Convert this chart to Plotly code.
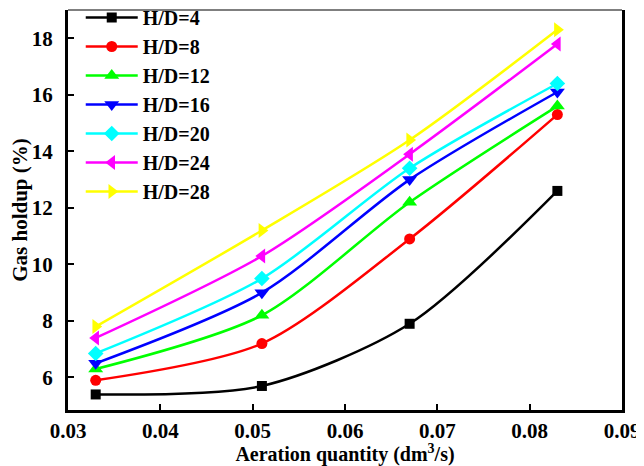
import plotly.graph_objects as go

aeration = [0.033, 0.051, 0.067, 0.083]
series_names = ["H/D=4", "H/D=8", "H/D=12", "H/D=16", "H/D=20", "H/D=24", "H/D=28"]
hd4 = [5.4, 5.7, 7.9, 12.6]
hd8 = [5.9, 7.2, 10.9, 15.3]
hd12 = [6.3, 8.2, 12.2, 15.6]
hd16 = [6.5, 9.0, 13.0, 16.1]
hd20 = [6.85, 9.5, 13.4, 16.4]
hd24 = [7.4, 10.3, 13.9, 17.8]
hd28 = [7.8, 11.2, 14.4, 18.3]
series_values = [hd4, hd8, hd12, hd16, hd20, hd24, hd28]

colors = ["#000000", "#ff0000", "#00ff00", "#0000ff", "#00ffff", "#ff00ff", "#ffff00"]
symbols = ["square", "circle", "triangle-up", "triangle-down", "diamond", "triangle-left", "triangle-right"]
sizes = [10, 11, 13, 13, 12, 13, 13]

FONT = "Liberation Serif"

fig = go.Figure()
for name, vals, c, s, sz in zip(series_names, series_values, colors, symbols, sizes):
    fig.add_trace(go.Scatter(
        x=aeration, y=vals, mode="lines+markers", name=name,
        line=dict(color=c, width=2.5, shape="spline", smoothing=0.8),
        marker=dict(symbol=s, size=sz, color=c),
    ))

# The page body has an 8px margin, so the figure is sized 8px smaller
fig.update_layout(
    width=636, height=458,
    margin=dict(l=60, r=22, t=2, b=56, autoexpand=False),
    paper_bgcolor="white", plot_bgcolor="white",
    font=dict(family=FONT, color="black"),
    showlegend=True,
    legend=dict(
        x=0.023, y=1.03, xanchor="left", yanchor="top",
        bgcolor="rgba(0,0,0,0)",
        font=dict(family=FONT, size=20, color="black", weight="bold"),
        tracegroupgap=0, itemwidth=52,
    ),
    xaxis=dict(
        range=[0.03, 0.09], dtick=0.01, tick0=0.03, tickformat=".2f",
        showline=True, linecolor="black", linewidth=3, mirror=False,
        ticks="inside", ticklen=6, tickwidth=2, tickcolor="black",
        showgrid=False, zeroline=False,
        tickfont=dict(family=FONT, size=21, color="black", weight="bold"),
        title=dict(text="Aeration quantity (dm<sup>3</sup>/s)", standoff=8,
                   font=dict(family=FONT, size=20, color="black", weight="bold")),
    ),
    yaxis=dict(
        range=[4.85, 19.0], dtick=2, tick0=6,
        showline=True, linecolor="black", linewidth=3, mirror=True,
        ticks="inside", ticklen=6, tickwidth=2, tickcolor="black",
        showgrid=False, zeroline=False, ticklabelstandoff=8,
        tickfont=dict(family=FONT, size=21, color="black", weight="bold"),
        title=dict(text="Gas holdup (%)", standoff=2,
                   font=dict(family=FONT, size=21, color="black", weight="bold")),
    ),
    shapes=[dict(type="line", xref="paper", yref="paper", x0=0, x1=1, y0=1, y1=1,
                 line=dict(color="#555555", width=1.5))],
)

fig.write_html("out.html")
